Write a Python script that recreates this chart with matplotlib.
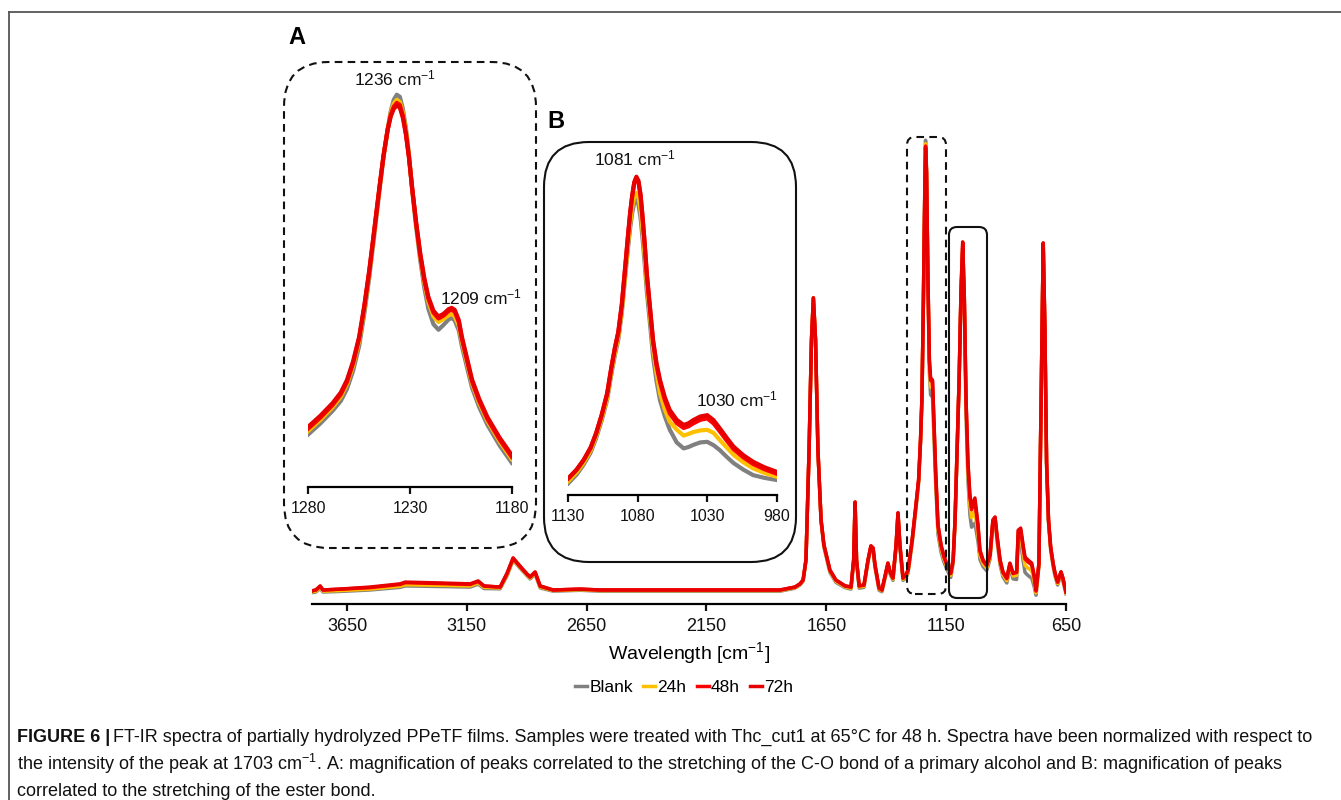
import matplotlib
matplotlib.use("Agg")
import matplotlib.pyplot as plt
from matplotlib.lines import Line2D
from matplotlib.patches import FancyBboxPatch
import matplotlib.transforms as mtransforms

plt.rcParams['font.family'] = ['Liberation Sans', 'DejaVu Sans']
plt.rcParams['mathtext.default'] = 'regular'
plt.rcParams['lines.scale_dashes'] = False

W, H = 1341, 800

SERIES = ["Blank", "24h", "48h", "72h"]
COLORS = ["#808080", "#FFC000", "#FF0000", "#E60000"]

# full spectrum, normalised to the 1703 cm-1 peak
MAIN_WN = [3796, 3780, 3762, 3750, 3679, 3554, 3428, 3407, 3262, 3136, 3103, 3078, 3011, 2982,
           2957, 2928, 2899, 2886, 2865, 2844, 2790, 2677, 2594, 2177, 1843, 1781, 1760, 1747,
           1735, 1722, 1712, 1704, 1695, 1685, 1672, 1660, 1635, 1610, 1572, 1547, 1536, 1530,
           1524, 1513, 1493, 1476, 1464, 1455, 1447, 1430, 1418, 1401, 1393, 1384, 1372, 1359,
           1351, 1343, 1330, 1318, 1309, 1292, 1276, 1265, 1257, 1251, 1245, 1238, 1236, 1232,
           1226, 1220, 1215, 1207, 1201, 1194, 1184, 1171, 1159, 1146, 1131, 1121, 1113, 1105,
           1096, 1088, 1081, 1074, 1067, 1059, 1051, 1044, 1030, 1017, 1009, 996, 981, 967,
           955, 946, 938, 925, 913, 897, 884, 871, 856, 849, 839, 829, 821, 809,
           793, 783, 775, 763, 754, 745, 738, 731, 723, 714, 704, 696, 685, 671,
           663, 650]
MAIN_72H = [-0.003, 0.000, 0.014, 0.000, 0.003, 0.010, 0.021, 0.027, 0.024, 0.021, 0.031, 0.014, 0.010, 0.058,
            0.110, 0.082, 0.055, 0.045, 0.062, 0.014, 0.000, 0.003, 0.000, 0.000, 0.000, 0.010, 0.021, 0.034,
            0.103, 0.479, 0.856, 1.000, 0.856, 0.479, 0.240, 0.154, 0.068, 0.034, 0.014, 0.010, 0.103, 0.301,
            0.103, 0.014, 0.017, 0.103, 0.151, 0.144, 0.086, 0.007, 0.000, 0.062, 0.092, 0.062, 0.041, 0.154,
            0.264, 0.154, 0.041, 0.051, 0.068, 0.171, 0.291, 0.377, 0.514, 0.661, 0.993, 1.430, 1.515, 1.430,
            1.062, 0.788, 0.726, 0.719, 0.582, 0.411, 0.223, 0.154, 0.116, 0.086, 0.058, 0.103, 0.240, 0.462,
            0.719, 1.027, 1.192, 0.993, 0.651, 0.435, 0.325, 0.284, 0.315, 0.223, 0.137, 0.103, 0.086, 0.120,
            0.240, 0.250, 0.188, 0.103, 0.062, 0.041, 0.092, 0.058, 0.062, 0.205, 0.212, 0.154, 0.113, 0.103,
            0.092, 0.051, 0.000, 0.092, 0.651, 1.188, 0.890, 0.435, 0.240, 0.147, 0.092, 0.058, 0.027, 0.062,
            0.041, -0.007]
MAIN_48H = [-0.003, 0.000, 0.012, 0.000, 0.003, 0.008, 0.019, 0.025, 0.022, 0.019, 0.029, 0.013, 0.010, 0.056,
            0.108, 0.080, 0.054, 0.044, 0.060, 0.013, 0.000, 0.003, 0.000, 0.000, 0.000, 0.010, 0.021, 0.034,
            0.103, 0.479, 0.856, 1.000, 0.856, 0.479, 0.240, 0.154, 0.068, 0.034, 0.014, 0.010, 0.103, 0.301,
            0.103, 0.014, 0.017, 0.103, 0.151, 0.144, 0.086, 0.007, 0.000, 0.062, 0.092, 0.062, 0.041, 0.154,
            0.264, 0.154, 0.041, 0.051, 0.068, 0.171, 0.291, 0.377, 0.514, 0.661, 0.993, 1.435, 1.520, 1.432,
            1.060, 0.782, 0.718, 0.712, 0.575, 0.405, 0.218, 0.150, 0.113, 0.084, 0.056, 0.101, 0.238, 0.460,
            0.719, 1.025, 1.188, 0.990, 0.645, 0.428, 0.318, 0.275, 0.304, 0.215, 0.132, 0.099, 0.083, 0.118,
            0.238, 0.248, 0.185, 0.100, 0.060, 0.039, 0.090, 0.056, 0.060, 0.203, 0.205, 0.147, 0.106, 0.096,
            0.086, 0.046, -0.004, 0.090, 0.651, 1.188, 0.890, 0.435, 0.240, 0.147, 0.092, 0.058, 0.027, 0.062,
            0.041, -0.007]
MAIN_24H = [-0.006, -0.004, 0.008, -0.004, -0.002, 0.003, 0.013, 0.018, 0.016, 0.014, 0.024, 0.009, 0.007, 0.052,
            0.105, 0.078, 0.052, 0.041, 0.057, 0.010, -0.002, 0.001, -0.002, -0.002, -0.002, 0.008, 0.019, 0.032,
            0.101, 0.477, 0.855, 1.000, 0.855, 0.477, 0.238, 0.150, 0.064, 0.030, 0.011, 0.006, 0.100, 0.300,
            0.100, 0.010, 0.013, 0.100, 0.148, 0.141, 0.082, 0.003, -0.003, 0.058, 0.089, 0.058, 0.037, 0.150,
            0.262, 0.150, 0.037, 0.046, 0.063, 0.165, 0.285, 0.371, 0.508, 0.655, 0.990, 1.440, 1.528, 1.437,
            1.055, 0.765, 0.695, 0.690, 0.555, 0.390, 0.205, 0.140, 0.105, 0.077, 0.050, 0.096, 0.233, 0.455,
            0.715, 1.020, 1.175, 0.975, 0.625, 0.405, 0.292, 0.248, 0.270, 0.190, 0.118, 0.090, 0.075, 0.112,
            0.233, 0.243, 0.178, 0.093, 0.053, 0.032, 0.083, 0.048, 0.050, 0.195, 0.185, 0.125, 0.085, 0.075,
            0.066, 0.030, -0.010, 0.086, 0.648, 1.185, 0.885, 0.430, 0.235, 0.142, 0.087, 0.053, 0.022, 0.057,
            0.036, -0.010]
MAIN_BLANK = [-0.009, -0.007, 0.005, -0.007, -0.005, 0.000, 0.009, 0.014, 0.012, 0.010, 0.020, 0.005, 0.004, 0.049,
              0.102, 0.075, 0.049, 0.038, 0.054, 0.007, -0.004, -0.001, -0.004, -0.004, -0.004, 0.006, 0.017, 0.030,
              0.099, 0.475, 0.854, 1.000, 0.854, 0.475, 0.236, 0.147, 0.060, 0.026, 0.008, 0.003, 0.097, 0.298,
              0.097, 0.006, 0.009, 0.097, 0.145, 0.138, 0.078, -0.001, -0.006, 0.054, 0.086, 0.054, 0.033, 0.146,
              0.260, 0.146, 0.033, 0.041, 0.058, 0.158, 0.278, 0.364, 0.500, 0.648, 0.985, 1.450, 1.540, 1.445,
              1.045, 0.745, 0.668, 0.660, 0.530, 0.370, 0.190, 0.128, 0.095, 0.068, 0.043, 0.090, 0.228, 0.450,
              0.710, 1.012, 1.160, 0.955, 0.600, 0.375, 0.258, 0.215, 0.229, 0.165, 0.104, 0.080, 0.066, 0.105,
              0.228, 0.238, 0.170, 0.085, 0.045, 0.024, 0.075, 0.038, 0.036, 0.185, 0.165, 0.100, 0.060, 0.050,
              0.040, 0.012, -0.018, 0.080, 0.645, 1.180, 0.880, 0.425, 0.230, 0.137, 0.082, 0.048, 0.017, 0.052,
              0.031, -0.013]

MAIN_TICKS = [3650, 3150, 2650, 2150, 1650, 1150, 650]

# inset A, 1280-1180 cm-1
A_WN = [1280, 1274, 1268, 1264, 1261, 1258, 1255, 1252.5, 1250, 1247.5, 1245, 1243, 1241, 1239.5, 1238,
        1236.5, 1235, 1233.5, 1232, 1230.5, 1229, 1227, 1225, 1223, 1221, 1218.5, 1216, 1213.5, 1211,
        1209.5, 1208, 1206, 1204.5, 1202, 1199.5, 1196, 1192, 1186, 1180]
A_BLANK = [0.242, 0.285, 0.334, 0.372, 0.418, 0.488, 0.585, 0.708, 0.852, 1.018, 1.188, 1.318, 1.425, 1.495,
           1.540, 1.560, 1.552, 1.505, 1.430, 1.327, 1.195, 1.048, 0.920, 0.812, 0.730, 0.670, 0.648, 0.667,
           0.688, 0.694, 0.684, 0.645, 0.585, 0.503, 0.423, 0.348, 0.280, 0.200, 0.132]
A_24H = [0.256, 0.299, 0.348, 0.389, 0.437, 0.508, 0.605, 0.726, 0.868, 1.030, 1.196, 1.322, 1.425, 1.488,
         1.525, 1.540, 1.532, 1.490, 1.420, 1.322, 1.199, 1.058, 0.933, 0.833, 0.757, 0.700, 0.678, 0.690,
         0.705, 0.709, 0.700, 0.663, 0.603, 0.521, 0.439, 0.364, 0.295, 0.215, 0.146]
A_48H = [0.265, 0.308, 0.357, 0.398, 0.446, 0.518, 0.615, 0.735, 0.876, 1.037, 1.200, 1.324, 1.424, 1.480,
         1.513, 1.528, 1.520, 1.478, 1.410, 1.318, 1.201, 1.062, 0.940, 0.843, 0.770, 0.715, 0.692, 0.703,
         0.721, 0.726, 0.718, 0.678, 0.614, 0.531, 0.448, 0.373, 0.303, 0.223, 0.155]
A_72H = [0.272, 0.315, 0.364, 0.405, 0.453, 0.525, 0.621, 0.740, 0.880, 1.040, 1.203, 1.325, 1.423, 1.475,
         1.505, 1.518, 1.510, 1.470, 1.405, 1.315, 1.203, 1.065, 0.946, 0.850, 0.776, 0.722, 0.699, 0.710,
         0.728, 0.733, 0.725, 0.685, 0.621, 0.538, 0.455, 0.380, 0.310, 0.230, 0.162]
A_TICKS = [1280, 1230, 1180]

# inset B, 1130-980 cm-1
B_WN = [1130, 1124, 1119, 1114, 1110, 1106, 1102, 1099, 1096.5, 1094, 1091.5, 1089, 1087, 1085.5, 1084,
        1082.5, 1081, 1079.5, 1078, 1076.5, 1075, 1073.5, 1071, 1069, 1066.5, 1064, 1060.5, 1057, 1052,
        1047, 1043.5, 1040, 1035, 1030, 1025.5, 1021, 1016, 1011, 1004, 997, 989, 980]
B_BLANK = [0.065, 0.097, 0.133, 0.177, 0.230, 0.295, 0.372, 0.465, 0.535, 0.592, 0.690, 0.825, 0.930, 1.000,
           1.058, 1.094, 1.105, 1.088, 1.040, 0.960, 0.870, 0.770, 0.640, 0.530, 0.440, 0.370, 0.310, 0.262,
           0.215, 0.193, 0.198, 0.206, 0.215, 0.217, 0.205, 0.187, 0.162, 0.139, 0.115, 0.095, 0.085, 0.077]
B_24H = [0.073, 0.105, 0.140, 0.185, 0.238, 0.303, 0.380, 0.475, 0.545, 0.603, 0.700, 0.835, 0.945, 1.020,
         1.078, 1.118, 1.130, 1.115, 1.068, 0.990, 0.900, 0.800, 0.670, 0.560, 0.470, 0.396, 0.335, 0.291,
         0.262, 0.240, 0.246, 0.253, 0.259, 0.261, 0.250, 0.224, 0.196, 0.169, 0.142, 0.120, 0.103, 0.089]
B_48H = [0.083, 0.115, 0.150, 0.195, 0.248, 0.315, 0.395, 0.490, 0.560, 0.620, 0.720, 0.860, 0.975, 1.056,
         1.120, 1.168, 1.185, 1.170, 1.120, 1.035, 0.940, 0.830, 0.694, 0.585, 0.498, 0.436, 0.370, 0.322,
         0.286, 0.268, 0.274, 0.285, 0.298, 0.303, 0.285, 0.256, 0.222, 0.190, 0.160, 0.136, 0.117, 0.100]
B_72H = [0.083, 0.115, 0.150, 0.195, 0.248, 0.315, 0.395, 0.490, 0.560, 0.620, 0.720, 0.860, 0.975, 1.056,
         1.120, 1.170, 1.190, 1.175, 1.125, 1.040, 0.945, 0.835, 0.700, 0.591, 0.505, 0.444, 0.380, 0.334,
         0.298, 0.279, 0.285, 0.297, 0.310, 0.315, 0.297, 0.267, 0.232, 0.199, 0.168, 0.144, 0.124, 0.107]
B_TICKS = [1130, 1080, 1030, 980]


def fig_rect(x0, y0, x1, y1):
    return [x0 / W, 1 - y1 / H, (x1 - x0) / W, (y1 - y0) / H]


def style_axis(ax, xlim, ylim, ticks, labelsize):
    ax.set_xlim(xlim)
    ax.set_ylim(ylim)
    ax.set_facecolor("none")
    for side in ["left", "right", "top"]:
        ax.spines[side].set_visible(False)
    ax.spines["bottom"].set_linewidth(1.6)
    ax.set_yticks([])
    ax.set_xticks(ticks)
    ax.tick_params(axis="x", direction="out", length=5, width=1.6, labelsize=labelsize, pad=5,
                   colors="#111111")


def add_box(fig, x0, y0, x1, y1, radius, dashed):
    px = mtransforms.Affine2D().scale(1 / W, 1 / H) + fig.transFigure
    box = FancyBboxPatch((x0, H - y1), x1 - x0, y1 - y0,
                         boxstyle=f"round,pad=0,rounding_size={radius}",
                         transform=px, fill=False, edgecolor="#111111", linewidth=1.5,
                         linestyle=(0, (5.5, 3.8)) if dashed else "-")
    fig.add_artist(box)


fig = plt.figure(figsize=(W / 100, H / 100), dpi=100)

# main spectrum
ax = fig.add_axes(fig_rect(312, 130, 1066, 604))
style_axis(ax, (3796, 650), (-0.048, 1.575), MAIN_TICKS, 13)
for name, col, vals in zip(SERIES, COLORS, [MAIN_BLANK, MAIN_24H, MAIN_48H, MAIN_72H]):
    ax.plot(MAIN_WN, vals, color=col, lw=2.5, label=name, solid_joinstyle="round")
ax.set_xlabel("Wavelength [cm$^{-1}$]", fontsize=14, labelpad=4)
leg = ax.legend(loc="center", bbox_to_anchor=(684 / W, 1 - 687 / H), bbox_transform=fig.transFigure,
                ncol=4, frameon=False, fontsize=12.5, handlelength=0.7, handletextpad=0.1,
                columnspacing=0.6)

# inset A
axa = fig.add_axes(fig_rect(308.3, 80, 511.7, 487))
style_axis(axa, (1280, 1180), (0.038, 1.617), A_TICKS, 11.5)
for col, vals in zip(COLORS, [A_BLANK, A_24H, A_48H, A_72H]):
    axa.plot(A_WN, vals, color=col, lw=3, solid_joinstyle="round")

# inset B
axb = fig.add_axes(fig_rect(568.3, 150, 776.7, 495))
style_axis(axb, (1130, 980), (0.022, 1.288), B_TICKS, 11.5)
for col, vals in zip(COLORS, [B_BLANK, B_24H, B_48H, B_72H]):
    axb.plot(B_WN, vals, color=col, lw=3, solid_joinstyle="round")

# rounded frames
add_box(fig, 284, 62, 536, 548, 45, True)
add_box(fig, 544, 142, 796, 562, 45, False)
add_box(fig, 907, 137, 946, 594, 8, True)
add_box(fig, 949, 227, 987, 598, 8, False)

# peak labels
peak_txt = [("1236 cm$^{-1}$", 395, 78), ("1209 cm$^{-1}$", 481, 297),
            ("1081 cm$^{-1}$", 635, 158), ("1030 cm$^{-1}$", 737, 399)]
for txt, x, y in peak_txt:
    fig.text(x / W, 1 - y / H, txt, ha="center", va="center", fontsize=12.5, color="#111111")
fig.text(297 / W, 1 - 37 / H, "A", ha="center", va="center", fontsize=17, fontweight="bold")
fig.text(556 / W, 1 - 121 / H, "B", ha="center", va="center", fontsize=17, fontweight="bold")

# page frame
frame_kw = dict(color="#555555", lw=1.3, transform=fig.transFigure)
fig.add_artist(Line2D([9 / W, 1], [1 - 12 / H, 1 - 12 / H], **frame_kw))
fig.add_artist(Line2D([9 / W, 9 / W], [1 - 12 / H, 0], **frame_kw))

# caption
cap_size = 13.0
bold = fig.text(17 / W, 1 - 737 / H, "FIGURE 6 |", fontsize=cap_size, fontweight="bold",
                va="center", ha="left", color="#111111")
fig.canvas.draw()
bb = bold.get_window_extent()
fig.text((bb.x1 + 3) / W, 1 - 737 / H,
         "FT-IR spectra of partially hydrolyzed PPeTF films. Samples were treated with Thc_cut1 at 65°C "
         "for 48 h. Spectra have been normalized with respect to",
         fontsize=cap_size, va="center", ha="left", color="#111111")
fig.text(17 / W, 1 - 764 / H,
         "the intensity of the peak at 1703 cm$^{-1}$. A: magnification of peaks correlated to the stretching "
         "of the C-O bond of a primary alcohol and B: magnification of peaks",
         fontsize=cap_size, va="center", ha="left", color="#111111")
fig.text(17 / W, 1 - 791 / H, "correlated to the stretching of the ester bond.",
         fontsize=cap_size, va="center", ha="left", color="#111111")

fig.savefig("out.png", dpi=100)
